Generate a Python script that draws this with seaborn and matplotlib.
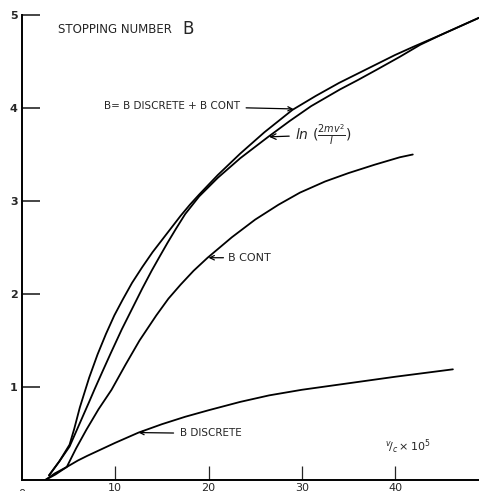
import pandas as pd
import matplotlib
matplotlib.use("Agg")
import matplotlib.pyplot as plt
import seaborn as sns

# values (x in v/c * 10^5)
b_total_x = [2.9, 4.0, 5.1, 5.6, 6.2, 7.2, 8.1, 9.0, 9.9, 10.8, 11.8, 12.9, 14.0, 15.0, 16.0, 17.0, 18.0, 19.0,
             21.0, 23.4, 26.0, 29.0, 31.5, 34.0, 36.0, 38.0, 40.0, 42.0, 45.0, 49.0]
b_total_y = [0.05, 0.2, 0.38, 0.55, 0.78, 1.1, 1.35, 1.57, 1.77, 1.94, 2.12, 2.29, 2.45, 2.58, 2.71, 2.84, 2.96, 3.07,
             3.28, 3.51, 3.74, 3.98, 4.13, 4.27, 4.37, 4.47, 4.57, 4.66, 4.79, 4.97]

ln_x = [2.9, 4.0, 5.1, 5.8, 6.5, 7.2, 7.8, 8.6, 9.5, 10.7, 11.9, 12.9, 13.9, 14.8, 15.6, 16.5, 17.5, 19.0,
        21.0, 23.4, 26.4, 28.7, 31.0, 34.1, 36.0, 38.0, 40.5, 42.7, 45.0, 49.0]
ln_y = [0.05, 0.2, 0.36, 0.52, 0.68, 0.84, 0.98, 1.16, 1.36, 1.62, 1.86, 2.06, 2.25, 2.41, 2.55, 2.7, 2.86, 3.05,
        3.25, 3.46, 3.69, 3.86, 4.02, 4.2, 4.3, 4.41, 4.55, 4.68, 4.79, 4.97]

b_cont_x = [2.5, 3.6, 4.8, 5.8, 6.9, 8.2, 9.6, 11.1, 12.6, 14.4, 15.7, 17.0, 18.4, 19.9, 22.5, 25.0, 27.5,
            29.8, 32.5, 35.0, 37.8, 40.5, 41.9]
b_cont_y = [0.0, 0.06, 0.14, 0.34, 0.54, 0.76, 0.97, 1.24, 1.5, 1.77, 1.95, 2.1, 2.25, 2.39, 2.61, 2.8, 2.96,
            3.09, 3.21, 3.3, 3.39, 3.47, 3.5]

b_disc_x = [2.5, 3.5, 4.8, 6.0, 7.0, 8.5, 10.0, 12.5, 15.0, 17.5, 20.0, 23.4, 26.5, 30.0, 35.0, 40.0, 46.2]
b_disc_y = [0.0, 0.07, 0.14, 0.21, 0.26, 0.33, 0.4, 0.51, 0.6, 0.68, 0.75, 0.84, 0.91, 0.97, 1.04, 1.11, 1.19]

x_ticks = [10, 20, 30, 40]
y_ticks = [1, 2, 3, 4, 5]

sns.set_style("ticks")
plt.rcParams['font.family'] = ['DejaVu Sans']

fig = plt.figure(figsize=(4.79, 4.91), dpi=100)
ax = fig.add_axes([22 / 479, 11 / 491, 457 / 479, 465 / 491])

for xs, ys in [(b_total_x, b_total_y), (ln_x, ln_y), (b_cont_x, b_cont_y), (b_disc_x, b_disc_y)]:
    df = pd.DataFrame({'x': xs, 'y': ys})
    sns.lineplot(data=df, x='x', y='y', sort=False, color='black', linewidth=1.3, ax=ax)

ax.set_xlim(0, 49)
ax.set_ylim(0, 5)
ax.set_xlabel('')
ax.set_ylabel('')
sns.despine(ax=ax)
for side in ['left', 'bottom']:
    ax.spines[side].set_linewidth(1.4)
    ax.spines[side].set_color('black')

ax.set_yticks(y_ticks)
ax.set_yticklabels([str(t) for t in y_ticks], fontweight='bold', fontsize=8)
ax.tick_params(axis='y', direction='in', length=13, width=1.2, pad=3)
ax.set_xticks(x_ticks)
ax.set_xticklabels([str(t) for t in x_ticks], fontsize=8)
ax.tick_params(axis='x', direction='in', length=10, width=0.9, pad=2)
ax.text(0, -0.1, '0', fontsize=8, ha='center', va='top')

# labels
ax.text(3.9, 4.84, 'STOPPING NUMBER', fontsize=8.5, va='center')
ax.text(17.2, 4.85, 'B', fontsize=12, va='center')
ax.annotate('B= B DISCRETE + B CONT', xy=(29.1, 3.99), xytext=(8.8, 4.02),
            fontsize=7.5, va='center',
            arrowprops=dict(arrowstyle='->', color='black', lw=0.9,
                            shrinkA=2, shrinkB=0))
ax.annotate(r'$\mathit{ln}\ (\frac{2mv^2}{I})$', xy=(26.5, 3.69), xytext=(29.3, 3.71),
            fontsize=10, va='center',
            arrowprops=dict(arrowstyle='->', color='black', lw=0.9,
                            shrinkA=2, shrinkB=0))
ax.annotate('B CONT', xy=(20.0, 2.39), xytext=(22.1, 2.39),
            fontsize=8, va='center',
            arrowprops=dict(arrowstyle='->', color='black', lw=0.9,
                            shrinkA=1, shrinkB=0))
ax.annotate('B DISCRETE', xy=(12.5, 0.51), xytext=(16.9, 0.5),
            fontsize=7.5, va='center',
            arrowprops=dict(arrowstyle='->', color='black', lw=0.9,
                            shrinkA=2, shrinkB=0))
ax.text(38.9, 0.36, r'$^{v}\!/_{c}\times10^5$', fontsize=8, va='center')

fig.savefig('out.png', dpi=100)
